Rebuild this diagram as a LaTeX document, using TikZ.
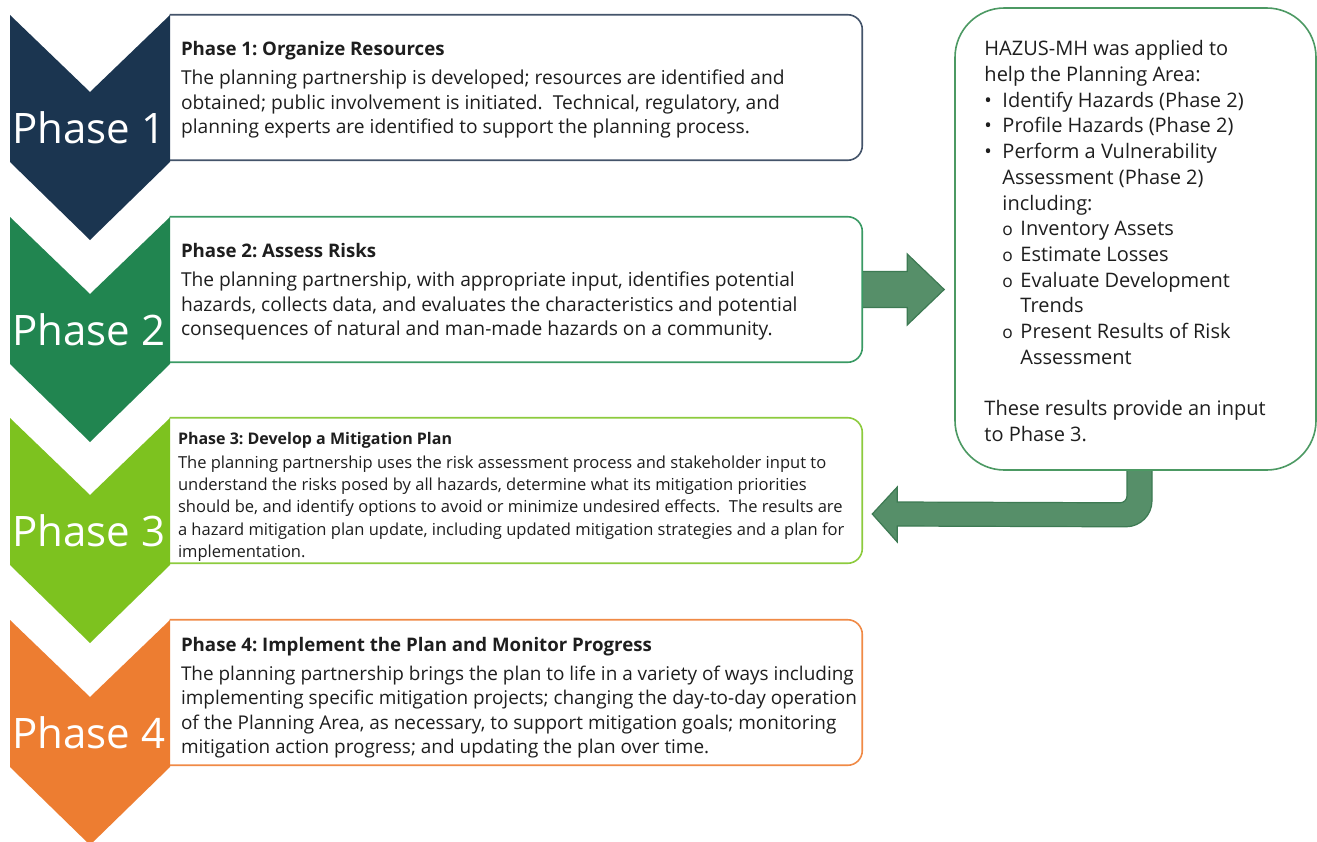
\documentclass[tikz,border=0pt]{standalone}
\usepackage{fontspec}
\setmainfont{Open Sans}
\usetikzlibrary{calc,fit}
\frenchspacing

\definecolor{phaseone}{HTML}{1B3550}
\definecolor{phasetwo}{HTML}{218550}
\definecolor{phasethree}{HTML}{7DC21F}
\definecolor{phasefour}{HTML}{ED7D31}
\definecolor{edgeone}{HTML}{44546A}
\definecolor{edgetwo}{HTML}{3A9A64}
\definecolor{edgethree}{HTML}{8DCB3E}
\definecolor{edgefour}{HTML}{F08A46}
\definecolor{hazusedge}{HTML}{4C9963}
\definecolor{arrowfill}{HTML}{568F69}
\definecolor{arrowedge}{HTML}{3D7A53}
\definecolor{textgray}{HTML}{1E1E1E}

\pgfdeclarelayer{background}
\pgfsetlayers{background,main}

\newcommand{\hazbullet}{\makebox[13.5pt][l]{\textbullet}}
\newcommand{\hazsub}{\hspace*{13.5pt}\makebox[13.5pt][l]{\fontsize{13}{13}\selectfont o}}

\begin{document}
\begin{tikzpicture}
[x=0.75pt, y=-0.75pt,
  chevrondecorate/.style={fill=#1},
  boxdecorate/.style={draw=#1, line width=1.2pt, rounded corners=11pt},
  labeldecorate/.style={text=white, inner sep=0pt, font=\fontsize{31.5}{31.5}\selectfont},
  titledecorate/.style={anchor=base west, inner sep=0pt, text=textgray,
    font=\bfseries\fontsize{14}{17}\selectfont},
  bodydecorate/.style={anchor=north west, inner sep=0pt, align=left, text=textgray,
    font=\fontsize{14.4}{18.4}\selectfont},
  arrowdecorate/.style={fill=arrowfill, draw=arrowedge, line width=0.9pt}]

\begin{pgfonlayer}{background}
  \fill[white] (0,0) rectangle (1317,842);
\end{pgfonlayer}
\useasboundingbox (0,0) rectangle (1317,842);

%% phase boxes and chevrons
\foreach \n/\ytop/\fillcol/\edgecol in {1/15/phaseone/edgeone, 2/217/phasetwo/edgetwo,
  3/418/phasethree/edgethree, 4/620/phasefour/edgefour}
{
  \node (box\n) [fit={(170,\ytop) (862,\ytop+145)}, inner sep=0pt, fill=white] {};
  \draw[boxdecorate=\edgecol] (box\n.north west) -- (box\n.north east)
    -- (box\n.south east) -- (box\n.south west);
  \fill[chevrondecorate=\fillcol] (10,\ytop) -- (90,\ytop+77) -- (170,\ytop)
    -- (170,\ytop+147) -- (90,\ytop+225) -- (10,\ytop+147) -- cycle;
  \node (label\n) [labeldecorate] at (89,\ytop+113) {Phase \n};
}

%% box texts
\node (title1) [titledecorate] at ($(box1.north west)+(11,40.5)$) {Phase 1: Organize Resources};
\node (body1) [bodydecorate] at ($(title1.base west)+(0,14.5)$)
  {The planning partnership is developed; resources are identified and\\
   obtained; public involvement is initiated.\ \ Technical, regulatory, and\\
   planning experts are identified to support the planning process.};

\node (title2) [titledecorate] at ($(box2.north west)+(11,40.5)$) {Phase 2: Assess Risks};
\node (body2) [bodydecorate] at ($(title2.base west)+(0,14.5)$)
  {The planning partnership, with appropriate input, identifies potential\\
   hazards, collects data, and evaluates the characteristics and potential\\
   consequences of natural and man-made hazards on a community.};

\node (title3) [titledecorate, font=\bfseries\fontsize{12}{14}\selectfont]
  at ($(box3.north west)+(8,27)$) {Phase 3: Develop a Mitigation Plan};
\node (body3) [bodydecorate, font=\fontsize{12.4}{16.8}\selectfont] at ($(title3.base west)+(0,10.5)$)
  {The planning partnership uses the risk assessment process and stakeholder input to\\
   understand the risks posed by all hazards, determine what its mitigation priorities\\
   should be, and identify options to avoid or minimize undesired effects.\ \ The results are\\
   a hazard mitigation plan update, including updated mitigation strategies and a plan for\\
   implementation.};

\node (title4) [titledecorate] at ($(box4.north west)+(11,31.5)$) {Phase 4: Implement the Plan and Monitor Progress};
\node (body4) [bodydecorate, font=\fontsize{14.2}{18.2}\selectfont] at ($(title4.base west)+(0,14.5)$)
  {The planning partnership brings the plan to life in a variety of ways including\\
   implementing specific mitigation projects; changing the day-to-day operation\\
   of the Planning Area, as necessary, to support mitigation goals; monitoring\\
   mitigation action progress; and updating the plan over time.};

%% hazus box
\node (hazus) [fit={(955,8) (1316,470)}, inner sep=0pt, fill=white, draw=hazusedge,
  line width=1.2pt, rounded corners=37pt] {};
\node (hazustext) [bodydecorate, font=\fontsize{15}{19.3}\selectfont]
  at ($(hazus.north west)+(30,33)$)
  {HAZUS-MH was applied to\\
   help the Planning Area:\\
   \hazbullet Identify Hazards (Phase 2)\\
   \hazbullet Profile Hazards (Phase 2)\\
   \hazbullet Perform a Vulnerability\\
   \hspace*{13.5pt}Assessment (Phase 2)\\
   \hspace*{13.5pt}including:\\
   \hazsub Inventory Assets\\
   \hazsub Estimate Losses\\
   \hazsub Evaluate Development\\
   \hspace*{27pt}Trends\\
   \hazsub Present Results of Risk\\
   \hspace*{27pt}Assessment\\[19.3pt]
   These results provide an input\\
   to Phase 3.};

%% arrows
\coordinate (tipone) at ($(box2.east -| hazus.west)+(-10,0)$);
\coordinate (tiptwo) at ($(box3.east)+(10,23.5)$);
\coordinate (bendtwo) at ($(hazus.south)+(-8.5,-6)$);
\begin{pgfonlayer}{background}
  \filldraw[arrowdecorate] (tipone) -- ($(tipone)+(-37,-35.5)$) -- ($(tipone)+(-37,-18)$)
    -- ($(box2.east)+(-6,-18)$) -- ($(box2.east)+(-6,18)$) -- ($(tipone)+(-37,18)$)
    -- ($(tipone)+(-37,35.5)$) -- cycle;
  \filldraw[arrowdecorate] (bendtwo) -- ($(bendtwo)+(0,31)$)
    .. controls ($(bendtwo)+(0,34.9)$) and ($(bendtwo)+(-3.1,38)$) .. ($(bendtwo)+(-7,38)$)
    -- ($(tiptwo)+(25,-12)$) -- ($(tiptwo)+(25,-27)$) -- (tiptwo)
    -- ($(tiptwo)+(25,28)$) -- ($(tiptwo)+(25,12)$) -- ($(bendtwo)+(-1,62)$)
    .. controls ($(bendtwo)+(13.3,62)$) and ($(bendtwo)+(25,50.3)$) .. ($(bendtwo)+(25,36)$)
    -- ($(bendtwo)+(25,0)$) -- cycle;
\end{pgfonlayer}
\end{tikzpicture}
\end{document}
